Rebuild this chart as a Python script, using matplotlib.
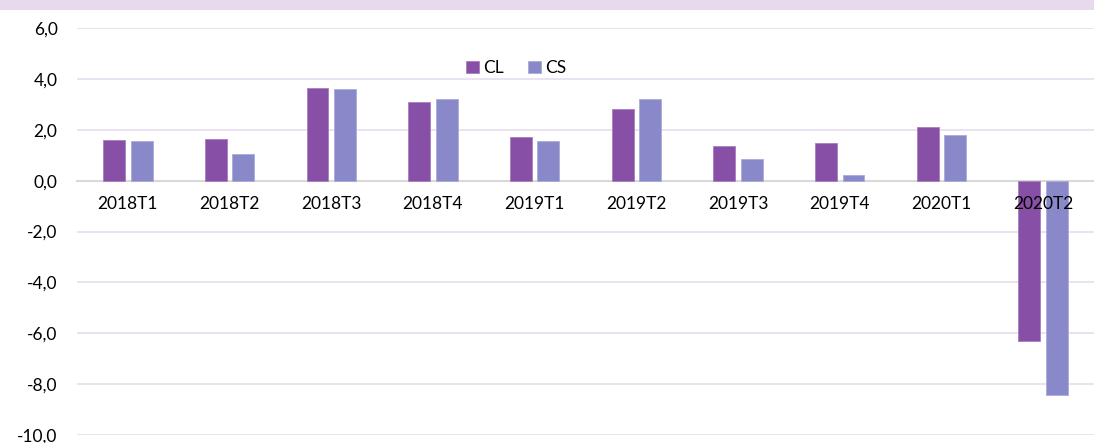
import matplotlib
matplotlib.use("Agg")
import matplotlib.pyplot as plt
from matplotlib.patches import Rectangle
import numpy as np

# quarters and series values
quarters = ["2018T1", "2018T2", "2018T3", "2018T4", "2019T1",
            "2019T2", "2019T3", "2019T4", "2020T1", "2020T2"]
cl_values = [1.61, 1.63, 3.66, 3.10, 1.73, 2.82, 1.38, 1.46, 2.09, -6.31]
cs_values = [1.57, 1.06, 3.61, 3.19, 1.55, 3.19, 0.84, 0.21, 1.78, -8.44]
y_ticks = [6, 4, 2, 0, -2, -4, -6, -8, -10]

CL_COLOR = "#884FA7"
CS_COLOR = "#8988C8"
GRID_COLOR = "#E8DEF0"

plt.rcParams["font.family"] = ["Lato", "DejaVu Sans"]

fig = plt.figure(figsize=(10.94, 4.43), dpi=100)
ax = fig.add_axes([0.0704, 0.018, 0.9296, 0.9188])

# top band
fig.patches.append(Rectangle((0, 1 - 10 / 443), 1, 10 / 443, transform=fig.transFigure,
                             facecolor="#E7DAEC", edgecolor="none", zorder=0))

# zero line = bottom spine (set before tick labels, it resets the axis)
ax.spines["bottom"].set_position(("data", 0))
ax.spines["bottom"].set_color("#D9D9D9")
ax.spines["bottom"].set_linewidth(1.5)
ax.spines["bottom"].set_zorder(1)
for s in ["top", "right", "left"]:
    ax.spines[s].set_visible(False)

# gridlines drawn by hand so tick labels can stay above the bars
for v in y_ticks:
    if v != 0:
        ax.axhline(v, color=GRID_COLOR, linewidth=1.3, zorder=0)

x = np.arange(len(quarters))
w = 0.215
off = 0.135
ax.bar(x - off, cl_values, w, color=CL_COLOR, edgecolor="#A77EC0", linewidth=0.6,
       label="CL", zorder=2)
ax.bar(x + off, cs_values, w, color=CS_COLOR, edgecolor="#ABAADA", linewidth=0.6,
       label="CS", zorder=2)

ax.set_xlim(-0.5, len(quarters) - 0.5)
ax.set_ylim(-10, 6)
ax.set_yticks(y_ticks)
ax.set_yticklabels([f"{v:.1f}".replace(".", ",") for v in y_ticks], fontsize=12.5)
ax.set_xticks(x)
ax.set_xticklabels(quarters, fontsize=12.5)
ax.tick_params(axis="x", length=0, pad=11, labelcolor="black")
ax.tick_params(axis="y", length=0, pad=14, labelcolor="black")
ax.xaxis.set_zorder(5)

fig.legend(loc="center", bbox_to_anchor=(516 / 1094, 1 - 68 / 443), ncol=2,
           frameon=False, fontsize=12.5, handlelength=0.75, handleheight=0.75,
           handletextpad=0.25, columnspacing=1.4, borderaxespad=0)

fig.savefig("out.png", dpi=100)
